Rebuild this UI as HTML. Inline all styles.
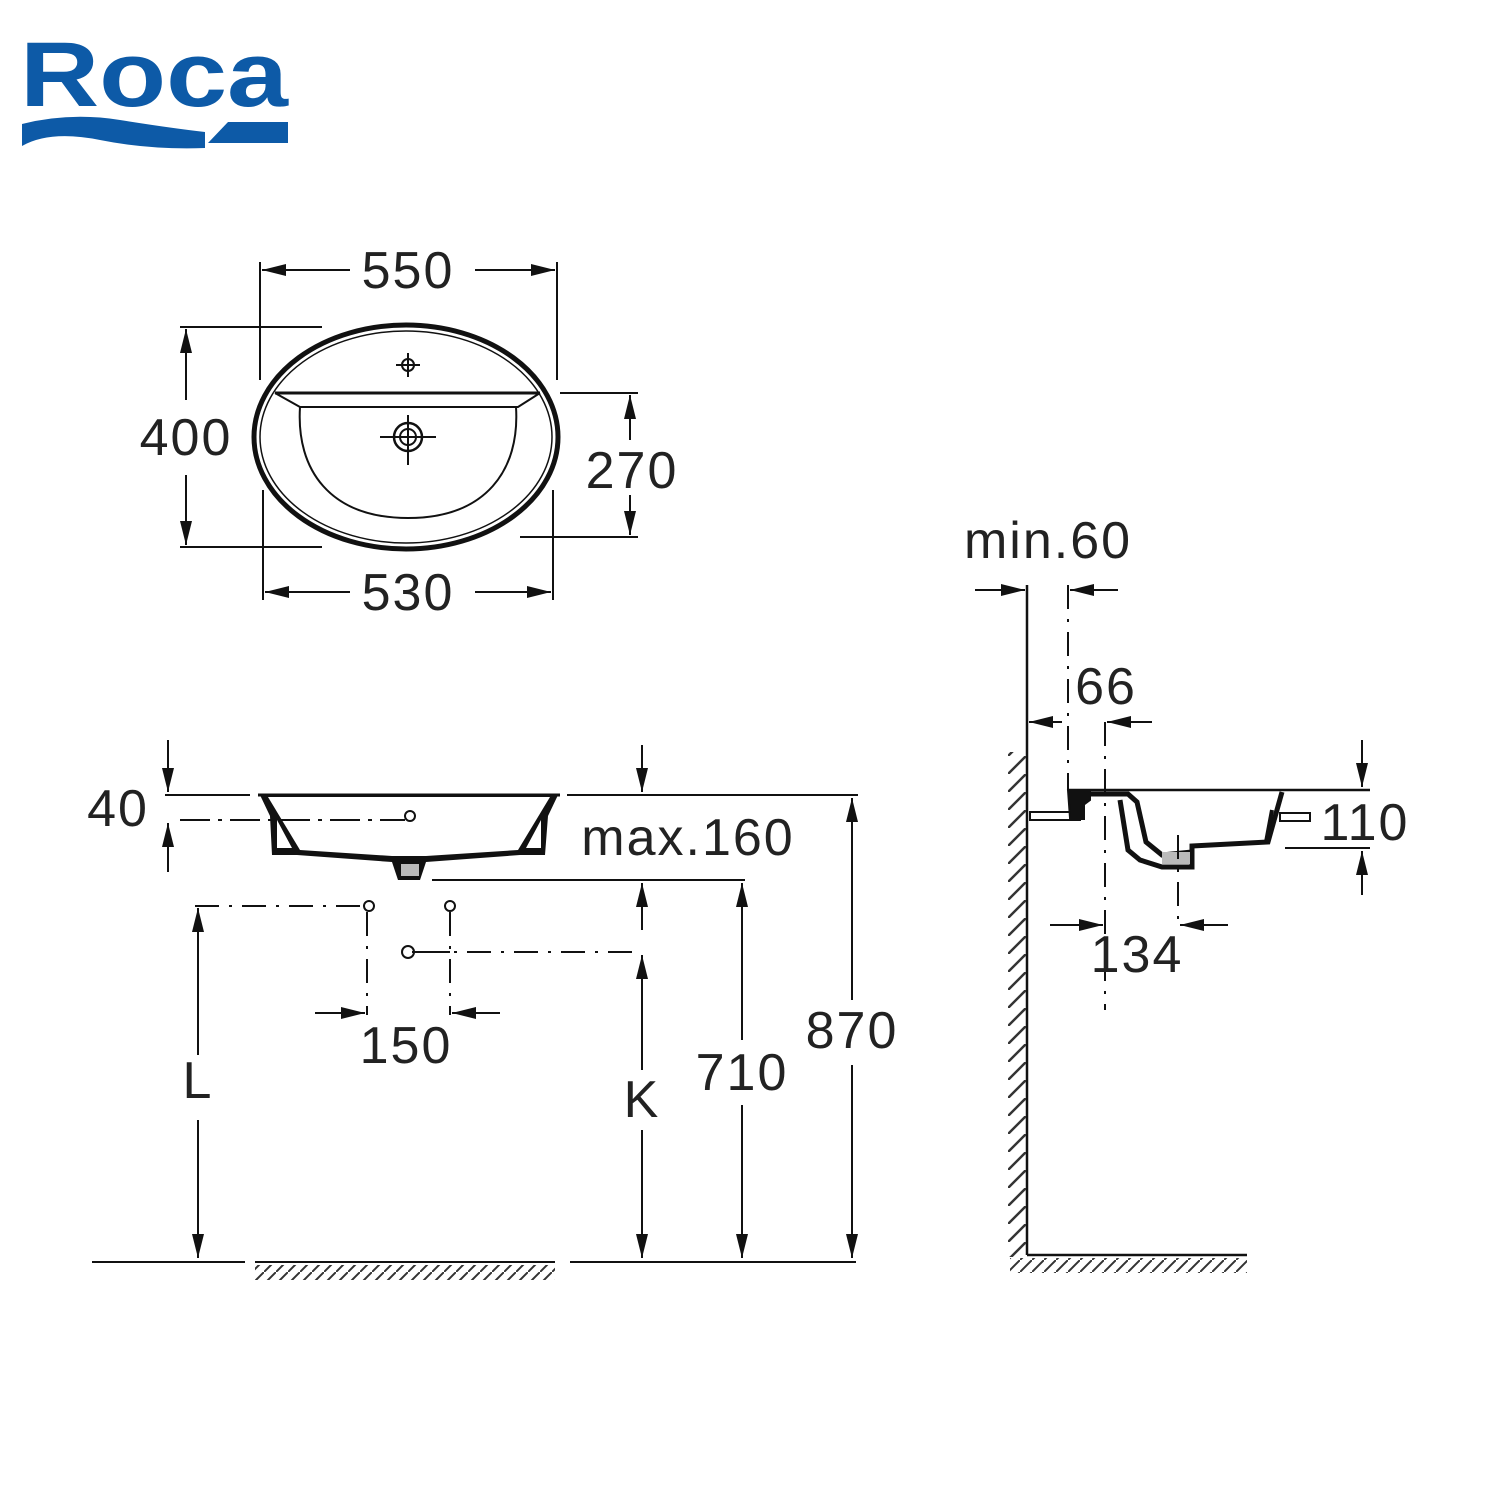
<!DOCTYPE html>
<html><head><meta charset="utf-8"><style>
html,body{margin:0;padding:0;background:#fff;}
svg{display:block;}
text{font-family:"Liberation Sans",sans-serif;fill:#222;}
</style></head><body>
<svg width="1500" height="1500" viewBox="0 0 1500 1500" xmlns="http://www.w3.org/2000/svg">
<defs>
<marker id="a" markerUnits="userSpaceOnUse" markerWidth="26" markerHeight="16" refX="24" refY="8" orient="auto">
<path d="M0,2 L24,8 L0,14 Z" fill="#111"/></marker>
<pattern id="hx" width="12" height="12" patternUnits="userSpaceOnUse"><path d="M0,12 L12,0" stroke="#333" stroke-width="2"/></pattern>
<pattern id="hw" width="18" height="18" patternUnits="userSpaceOnUse"><path d="M0,18 L18,0" stroke="#333" stroke-width="2.5"/></pattern>
</defs>
<!-- logo -->
<text x="20" y="106" font-size="92" font-weight="bold" style="fill:#0d5aa7" textLength="268" lengthAdjust="spacingAndGlyphs">Roca</text>
<path d="M22,124 Q70,112 120,120 T205,132 L205,148 Q150,150 100,140 T22,146 Z" fill="#0d5aa7"/>
<path d="M228,122 L288,122 L288,143 L208,143 Z" fill="#0d5aa7"/>

<g stroke="#111" fill="none" stroke-width="2">
<!-- TOP VIEW -->
<ellipse cx="406" cy="437" rx="152" ry="112" stroke-width="5"/>
<ellipse cx="406" cy="437" rx="146" ry="106" stroke-width="1.5"/>
<line x1="275" y1="393" x2="540" y2="393" stroke-width="3"/>
<path d="M275,393 L300,407 L518,407 L540,393" />
<path d="M300,407 C296,470 330,518 408,518 C486,518 520,470 516,407"/>
<circle cx="408" cy="365" r="6"/><line x1="396" y1="365" x2="420" y2="365"/><line x1="408" y1="353" x2="408" y2="377"/>
<circle cx="408" cy="437" r="14" stroke-width="2.5"/><circle cx="408" cy="437" r="8"/>
<line x1="380" y1="437" x2="436" y2="437"/><line x1="408" y1="415" x2="408" y2="465"/>
<!-- 550 -->
<line x1="260" y1="262" x2="260" y2="380"/><line x1="557" y1="262" x2="557" y2="380"/>
<line x1="350" y1="270" x2="262" y2="270" marker-end="url(#a)"/><line x1="475" y1="270" x2="555" y2="270" marker-end="url(#a)"/>
<!-- 400 -->
<line x1="180" y1="327" x2="322" y2="327"/><line x1="180" y1="547" x2="322" y2="547"/>
<line x1="186" y1="400" x2="186" y2="329" marker-end="url(#a)"/><line x1="186" y1="475" x2="186" y2="545" marker-end="url(#a)"/>
<!-- 270 -->
<line x1="560" y1="393" x2="638" y2="393"/><line x1="520" y1="537" x2="638" y2="537"/>
<line x1="630" y1="440" x2="630" y2="395" marker-end="url(#a)"/><line x1="630" y1="495" x2="630" y2="535" marker-end="url(#a)"/>
<!-- 530 -->
<line x1="263" y1="490" x2="263" y2="600"/><line x1="553" y1="490" x2="553" y2="600"/>
<line x1="350" y1="592" x2="265" y2="592" marker-end="url(#a)"/><line x1="475" y1="592" x2="551" y2="592" marker-end="url(#a)"/>

<!-- FRONT VIEW -->
<line x1="165" y1="795" x2="250" y2="795"/><line x1="258" y1="795" x2="560" y2="795" stroke-width="3"/><line x1="567" y1="795" x2="858" y2="795"/>
<path d="M260,795 L270,816 L272,855 L297,855 L392,862 L398,880 L420,880 L426,862 L520,855 L545,855 L548,816 L558,795 Z" fill="#111" stroke="none"/>
<path d="M268,797 L300,850 L392,856 L426,856 L518,850 L550,797 Z" fill="#fff" stroke="none"/>
<path d="M277,820 L292,848 L277,848 Z M541,820 L526,848 L541,848 Z" fill="#fff" stroke="none"/>
<rect x="401" y="864" width="18" height="12" fill="#bbb" stroke="none"/>
<line x1="180" y1="820" x2="405" y2="820" stroke-dasharray="30,8,4,8"/>
<circle cx="410" cy="816" r="5" fill="#fff"/>
<line x1="168" y1="740" x2="168" y2="792" marker-end="url(#a)"/><line x1="168" y1="872" x2="168" y2="823" marker-end="url(#a)"/>
<line x1="642" y1="745" x2="642" y2="792" marker-end="url(#a)"/>
<line x1="432" y1="880" x2="745" y2="880"/>
<line x1="852" y1="1000" x2="852" y2="798" marker-end="url(#a)"/><line x1="852" y1="1065" x2="852" y2="1258" marker-end="url(#a)"/>
<line x1="742" y1="1040" x2="742" y2="883" marker-end="url(#a)"/><line x1="742" y1="1105" x2="742" y2="1258" marker-end="url(#a)"/>
<line x1="642" y1="930" x2="642" y2="883" marker-end="url(#a)"/>
<line x1="642" y1="1070" x2="642" y2="955" marker-end="url(#a)"/><line x1="642" y1="1130" x2="642" y2="1258" marker-end="url(#a)"/>
<line x1="198" y1="1055" x2="198" y2="908" marker-end="url(#a)"/><line x1="198" y1="1120" x2="198" y2="1258" marker-end="url(#a)"/>
<line x1="195" y1="906" x2="362" y2="906" stroke-dasharray="24,10,3,10"/>
<line x1="420" y1="952" x2="640" y2="952" stroke-dasharray="24,10,3,10"/>
<line x1="367" y1="912" x2="367" y2="1015" stroke-dasharray="24,10,3,10"/>
<line x1="450" y1="912" x2="450" y2="1015" stroke-dasharray="24,10,3,10"/>
<line x1="412" y1="952" x2="450" y2="952"/>
<circle cx="369" cy="906" r="5"/><circle cx="450" cy="906" r="5"/><circle cx="408" cy="952" r="6"/>
<line x1="315" y1="1013" x2="365" y2="1013" marker-end="url(#a)"/><line x1="500" y1="1013" x2="452" y2="1013" marker-end="url(#a)"/>
<!-- floor -->
<line x1="92" y1="1262" x2="245" y2="1262"/><line x1="255" y1="1262" x2="555" y2="1262"/><line x1="570" y1="1262" x2="856" y2="1262"/>
<rect x="255" y="1265" width="300" height="15" fill="url(#hx)" stroke="none"/>

<!-- SIDE VIEW -->
<line x1="1027" y1="585" x2="1027" y2="1255" stroke-width="2.5"/>
<rect x="1008" y="752" width="18" height="505" fill="url(#hw)" stroke="none"/>
<line x1="1027" y1="1255" x2="1247" y2="1255" stroke-width="2.5"/>
<rect x="1010" y="1258" width="237" height="15" fill="url(#hx)" stroke="none"/>
<line x1="1068" y1="585" x2="1068" y2="790" stroke-dasharray="24,10,3,10"/>
<line x1="975" y1="590" x2="1025" y2="590" marker-end="url(#a)"/><line x1="1118" y1="590" x2="1070" y2="590" marker-end="url(#a)"/>
<line x1="1062" y1="722" x2="1029" y2="722" marker-end="url(#a)"/><line x1="1152" y1="722" x2="1107" y2="722" marker-end="url(#a)"/>
<line x1="1105" y1="722" x2="1105" y2="1010" stroke-dasharray="24,10,3,10"/>
<line x1="1068" y1="790" x2="1370" y2="790" stroke-width="2.5"/>
<rect x="1030" y="812" width="50" height="8" fill="#fff"/>
<!-- rim block -->
<path d="M1068,790 L1085,790 L1085,820 L1070,820 Z" fill="#111" stroke="none"/>
<path d="M1068,790 L1090,790 L1090,800 L1082,806 L1082,818 L1070,818 Z" fill="#111"/>
<!-- bowl walls -->
<path d="M1090,794 L1128,794 L1137,802 L1146,842 L1162,855 L1192,852 L1192,846 L1268,842 L1282,792" stroke-width="5"/>
<path d="M1120,800 L1128,850 L1140,860 L1162,867 L1192,867 L1192,852" stroke-width="5"/>
<path d="M1268,842 L1270,835 M1272,810 L1266,842" stroke-width="4"/>
<rect x="1162" y="852" width="28" height="12" fill="#bbb" stroke="none"/>
<rect x="1280" y="813" width="30" height="8" fill="#fff"/>
<line x1="1285" y1="848" x2="1370" y2="848"/>
<line x1="1362" y1="740" x2="1362" y2="787" marker-end="url(#a)"/><line x1="1362" y1="895" x2="1362" y2="851" marker-end="url(#a)"/>
<line x1="1178" y1="835" x2="1178" y2="920" stroke-dasharray="24,10,3,10"/>
<line x1="1050" y1="925" x2="1103" y2="925" marker-end="url(#a)"/><line x1="1228" y1="925" x2="1180" y2="925" marker-end="url(#a)"/>
</g>

<g font-size="52" text-anchor="middle" letter-spacing="2">
<text x="408" y="288">550</text>
<text x="186" y="455">400</text>
<text x="632" y="488">270</text>
<text x="408" y="610">530</text>
<text x="118" y="826">40</text>
<text x="688" y="855">max.160</text>
<text x="852" y="1048">870</text>
<text x="742" y="1090">710</text>
<text x="642" y="1117">K</text>
<text x="198" y="1098">L</text>
<text x="406" y="1063">150</text>
<text x="1048" y="558">min.60</text>
<text x="1106" y="704">66</text>
<text x="1365" y="840">110</text>
<text x="1137" y="972">134</text>
</g>
</svg>
</body></html>
